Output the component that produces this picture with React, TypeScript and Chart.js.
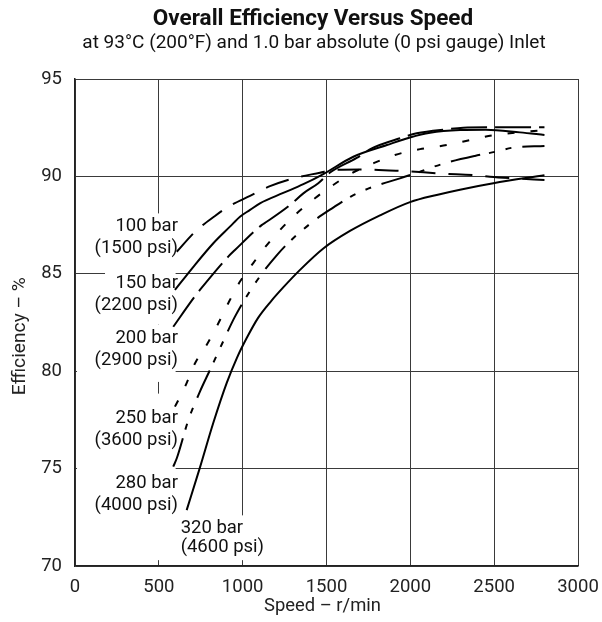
import React, { useEffect, useRef } from "react";
import { Chart, registerables } from "chart.js";

Chart.register(...registerables);

const FONT = "Roboto, 'Noto Sans', 'DejaVu Sans', sans-serif";

// ---- Data (speed r/min, efficiency %) ----
const speed100 = [607, 716, 835, 914, 1044, 1163, 1302, 1461, 1540, 1700, 1948, 2197, 2376, 2475, 2614, 2800];
const eff100 = [86.13, 87.16, 87.97, 88.44, 89.0, 89.5, 89.9, 90.19, 90.33, 90.36, 90.28, 90.14, 90.07, 89.98, 89.9, 89.82];

const speed150 = [596, 706, 825, 924, 984, 1044, 1103, 1242, 1362, 1481, 1660, 1860, 1998, 2118, 2297, 2450, 2654, 2800];
const eff150 = [84.17, 85.36, 86.57, 87.42, 87.93, 88.28, 88.62, 89.15, 89.6, 90.12, 91.01, 91.61, 92.0, 92.24, 92.38, 92.4, 92.26, 92.13];

const speed200 = [586, 706, 745, 914, 954, 1113, 1143, 1282, 1362, 1451, 1521, 1680, 1770, 1938, 2038, 2217, 2316, 2455, 2800];
const eff200 = [82.28, 83.74, 84.17, 85.88, 86.22, 87.5, 87.67, 88.53, 89.13, 89.65, 90.2, 90.95, 91.44, 91.96, 92.21, 92.42, 92.5, 92.52, 92.52];

const speed250 = [596, 656, 716, 785, 855, 914, 984, 1063, 1123, 1223, 1322, 1431, 1540, 1650, 1779, 1908, 2058, 2225, 2374, 2485, 2800];
const eff250 = [78.18, 79.2, 80.41, 81.35, 82.46, 83.49, 84.6, 85.55, 86.25, 87.25, 88.1, 88.88, 89.56, 90.16, 90.67, 91.1, 91.4, 91.62, 91.9, 92.1, 92.38];

const speed280 = [586, 607, 676, 745, 805, 865, 954, 1054, 1123, 1203, 1292, 1431, 1531, 1650, 1779, 1938, 2058, 2137, 2237, 2385, 2505, 2614, 2800];
const eff280 = [75.1, 75.53, 77.49, 78.95, 80.06, 81.18, 82.8, 84.25, 85.1, 85.95, 86.75, 87.76, 88.35, 88.99, 89.47, 89.9, 90.24, 90.49, 90.75, 91.05, 91.26, 91.48, 91.56];

const speed320 = [666, 745, 825, 905, 964, 1024, 1093, 1170, 1242, 1342, 1481, 1640, 1819, 1998, 2157, 2296, 2495, 2800];
const eff320 = [72.87, 75.05, 77.35, 79.4, 80.65, 81.7, 82.75, 83.6, 84.3, 85.2, 86.3, 87.2, 88.0, 88.68, 89.05, 89.32, 89.65, 90.06];

const speedTicks = [0, 500, 1000, 1500, 2000, 2500, 3000];
const effTicks = [70, 75, 80, 85, 90, 95];

const seriesNames = ["100 bar", "150 bar", "200 bar", "250 bar", "280 bar", "320 bar"];
const seriesPsi = ["(1500 psi)", "(2200 psi)", "(2900 psi)", "(3600 psi)", "(4000 psi)", "(4600 psi)"];

const titleText = "Overall Efficiency Versus Speed";
const subtitleText = "at 93°C (200°F) and 1.0 bar absolute (0 psi gauge) Inlet";
const xTitle = "Speed – r/min";
const yTitle = "Efficiency – %";

// ---- Styling / layout ----
const dashes: number[][] = [
  [24, 13],
  [],
  [36, 8],
  [7, 16],
  [30, 9, 6, 11, 6, 11],
  [],
];

// label anchors in data space: first line centre, right-aligned unless align "left"
const labelAnchors = [
  { s: 614, e: 87.41, align: "right", gap: 22 },
  { s: 614, e: 84.53, align: "right", gap: 22 },
  { s: 614, e: 81.7, align: "right", gap: 22 },
  { s: 614, e: 77.58, align: "right", gap: 22 },
  { s: 614, e: 74.25, align: "right", gap: 22 },
  { s: 630, e: 71.95, align: "left", gap: 19 },
];

// white masks behind the curve labels (data space)
const labelMasks = [
  { s0: 179, s1: 600, e0: 82.4, e1: 88.1 },
  { s0: 12, s1: 600, e0: 79.45, e1: 82.4 },
  { s0: 12, s1: 600, e0: 70.3, e1: 78.85 },
  { s0: 630, s1: 1120, e0: 70.3, e1: 72.6 },
];

const zip = (xs: number[], ys: number[]) => xs.map((x, i) => ({ x, y: ys[i] }));

const allSpeeds = [speed100, speed150, speed200, speed250, speed280, speed320];
const allEffs = [eff100, eff150, eff200, eff250, eff280, eff320];

const annotate = {
  id: "annotate",
  beforeDatasetsDraw(chart: any) {
    const { ctx, scales } = chart;
    const xs = scales.x;
    const ys = scales.y;
    ctx.save();
    ctx.fillStyle = "#ffffff";
    for (const m of labelMasks) {
      const x0 = xs.getPixelForValue(m.s0);
      const x1 = xs.getPixelForValue(m.s1);
      const y0 = ys.getPixelForValue(m.e1);
      const y1 = ys.getPixelForValue(m.e0);
      ctx.fillRect(x0, y0, x1 - x0, y1 - y0);
    }
    ctx.fillStyle = "#111";
    ctx.font = `18.5px ${FONT}`;
    ctx.textBaseline = "middle";
    labelAnchors.forEach((a, i) => {
      const px = xs.getPixelForValue(a.s);
      const py = ys.getPixelForValue(a.e);
      ctx.textAlign = a.align;
      ctx.fillText(seriesNames[i], px, py);
      ctx.fillText(seriesPsi[i], px, py + a.gap);
    });
    ctx.restore();
  },
  afterDraw(chart: any) {
    const { ctx, chartArea } = chart;
    ctx.save();
    ctx.fillStyle = "#111";
    ctx.textAlign = "center";
    ctx.textBaseline = "middle";
    ctx.font = `bold 22.5px ${FONT}`;
    ctx.fillText(titleText, 313, 19);
    ctx.font = `19px ${FONT}`;
    ctx.fillText(subtitleText, 314, 43);
    // axis titles
    ctx.fillStyle = "#222";
    ctx.font = `18.4px ${FONT}`;
    ctx.fillText(xTitle, chartArea.left + chartArea.width * 0.492, 606);
    ctx.translate(20, chartArea.top + chartArea.height * 0.528);
    ctx.rotate(-Math.PI / 2);
    ctx.font = `19.2px ${FONT}`;
    ctx.fillText(yTitle, 0, 0);
    ctx.restore();
  },
};

export default function App() {
  const ref = useRef<HTMLCanvasElement>(null);

  useEffect(() => {
    if (!ref.current) return;
    const datasets = allSpeeds.map((sp, i) => ({
      label: seriesNames[i],
      data: zip(sp, allEffs[i]),
      borderColor: "#000",
      borderWidth: 2,
      borderDash: dashes[i],
      borderCapStyle: "butt",
      pointRadius: 0,
      fill: false,
      cubicInterpolationMode: "monotone",
    }));

    const chart = new Chart(ref.current, {
      type: "line",
      data: { datasets },
      plugins: [annotate],
      options: {
        animation: false,
        responsive: false,
        devicePixelRatio: 1,
        layout: { padding: { top: 79, right: 24, bottom: 0, left: 0 } },
        plugins: {
          legend: { display: false },
          title: { display: false },
          tooltip: { enabled: false },
        },
        scales: {
          x: {
            type: "linear",
            min: 0,
            max: 3000,
            afterBuildTicks: (s: any) => {
              s.ticks = speedTicks.map((v) => ({ value: v }));
            },
            afterFit: (s: any) => {
              s.height = 56;
              s.paddingRight = 0;
              s.paddingLeft = 0;
            },
            grid: { color: "#3a3a3a", lineWidth: 1, drawTicks: false },
            border: { color: "#222", width: 1.5 },
            ticks: {
              color: "#222",
              font: { family: FONT, size: 18.5 },
              padding: 10,
              maxRotation: 0,
              callback: (v: any) => String(v),
            },
            title: { display: false },
          },
          y: {
            type: "linear",
            min: 70,
            max: 95,
            afterBuildTicks: (s: any) => {
              s.ticks = effTicks.map((v) => ({ value: v }));
            },
            afterFit: (s: any) => {
              s.width = 75;
            },
            grid: { color: "#3a3a3a", lineWidth: 1, drawTicks: false },
            border: { color: "#222", width: 1.5 },
            ticks: {
              color: "#222",
              font: { family: FONT, size: 18.5 },
              padding: 13,
              callback: (v: any) => String(v),
            },
            title: { display: false },
          },
        },
      } as any,
    });
    return () => chart.destroy();
  }, []);

  return (
    <div style={{ position: "absolute", left: 0, top: 0, width: 602, height: 622, background: "#fff" }}>
      <canvas ref={ref} width={602} height={622} style={{ width: 602, height: 622, display: "block" }} />
    </div>
  );
}
